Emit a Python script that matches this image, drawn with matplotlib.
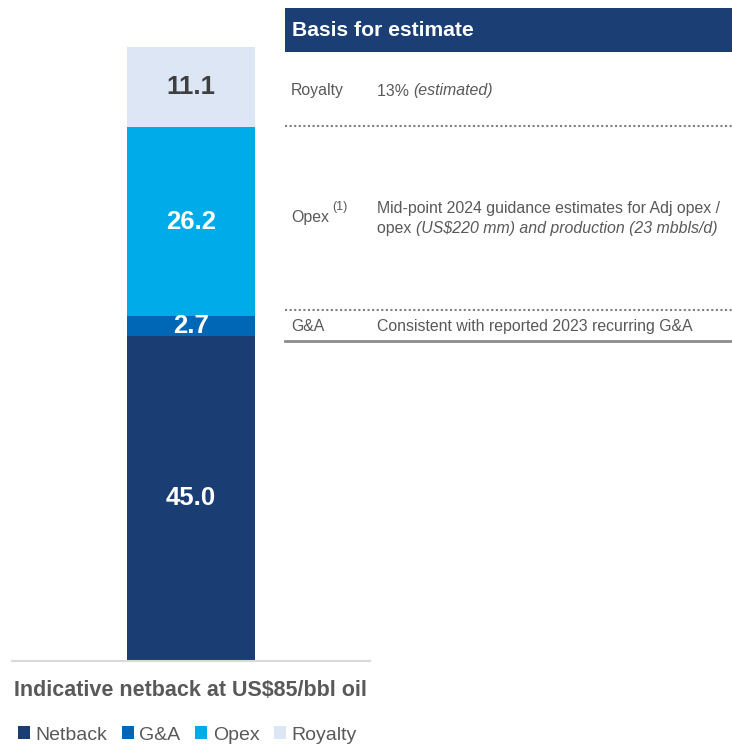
import matplotlib
matplotlib.use('Agg')
import matplotlib.pyplot as plt
from matplotlib.patches import Rectangle, Patch
from matplotlib.lines import Line2D

plt.rcParams['font.family'] = ['Liberation Sans', 'DejaVu Sans']

# netback build-up, US$/bbl (bottom to top)
components = ['Netback', 'G&A', 'Opex', 'Royalty']
values = [45.0, 2.7, 26.2, 11.1]
colors = ['#1A3E73', '#0067B6', '#00ABE9', '#DCE6F4']
label_colors = ['white', 'white', 'white', '#3F3F3F']

W, H = 732, 746
GRAY = '#595959'


def fx(x):
    return x / W


def fy(y):
    return 1 - y / H


fig = plt.figure(figsize=(W / 100, H / 100), dpi=100)

# stacked bar
ax = fig.add_axes([fx(12), fy(661), fx(370) - fx(12), fy(47) - fy(661)])
bottom = 0
for name, v, c, lc in zip(components, values, colors, label_colors):
    ax.bar(0, v, bottom=bottom, width=0.3575, color=c, label=name)
    ax.text(0, bottom + v / 2, f'{v:.1f}', ha='center', va='center',
            fontsize=18.5, fontweight='bold', color=lc)
    bottom += v
ax.set_xlim(-0.5, 0.5)
ax.set_ylim(0, sum(values))
for s in ['top', 'left', 'right']:
    ax.spines[s].set_visible(False)
ax.spines['bottom'].set_color('#D9D9D9')
ax.spines['bottom'].set_linewidth(1.5)
ax.set_xticks([])
ax.set_yticks([])

fig.text(fx(190), fy(690), 'Indicative netback at US$85/bbl oil', ha='center',
         va='center', fontsize=15.5, fontweight='bold', color=GRAY)

handles = [Patch(facecolor=c, edgecolor='none') for c in colors]
fig.legend(handles, components, loc='center left',
           bbox_to_anchor=(fx(18), fy(735)), ncol=4, frameon=False,
           fontsize=14, handlelength=0.6, handleheight=0.6,
           handletextpad=0.3, columnspacing=0.75, labelcolor=GRAY,
           borderaxespad=0, borderpad=0)

# basis for estimate panel
fig.add_artist(Rectangle((fx(285), fy(52)), fx(732) - fx(285), fy(8) - fy(52),
                         transform=fig.transFigure, facecolor='#1B3F74',
                         edgecolor='none'))
fig.text(fx(292), fy(30), 'Basis for estimate', ha='left', va='center',
         fontsize=15.2, fontweight='bold', color='white')

renderer = fig.canvas.get_renderer()


def run(x, y, parts, size=11.4):
    # draw a line made of plain / italic pieces one after another
    for txt, style in parts:
        t = fig.text(fx(x), fy(y), txt, ha='left', va='center', fontsize=size,
                     style=style, color=GRAY)
        x += t.get_window_extent(renderer).width


run(291, 91, [('Royalty', 'normal')])
run(377, 91, [('13% ', 'normal'), ('(estimated)', 'italic')])

fig.add_artist(Line2D([fx(285), fx(732)], [fy(126), fy(126)], transform=fig.transFigure,
                      color='#7F7F7F', linestyle=(0, (1, 1.2)), linewidth=1.5))

run(291, 217, [('Opex', 'normal')])
fig.text(fx(332), fy(207), '(1)', ha='left', va='center', fontsize=9, color=GRAY)
run(377, 208, [('Mid-point 2024 guidance estimates for Adj opex /', 'normal')])
run(377, 228, [('opex ', 'normal'), ('(US$220 mm) and production (23 mbbls/d)', 'italic')])

fig.add_artist(Line2D([fx(285), fx(732)], [fy(310), fy(310)], transform=fig.transFigure,
                      color='#7F7F7F', linestyle=(0, (1, 1.2)), linewidth=1.5))

run(291, 327, [('G&A', 'normal')])
run(377, 327, [('Consistent with reported 2023 recurring G&A', 'normal')])

fig.add_artist(Line2D([fx(285), fx(732)], [fy(341), fy(341)], transform=fig.transFigure,
                      color='#8C8C8C', linewidth=2))

plt.savefig('out.png', dpi=100)
